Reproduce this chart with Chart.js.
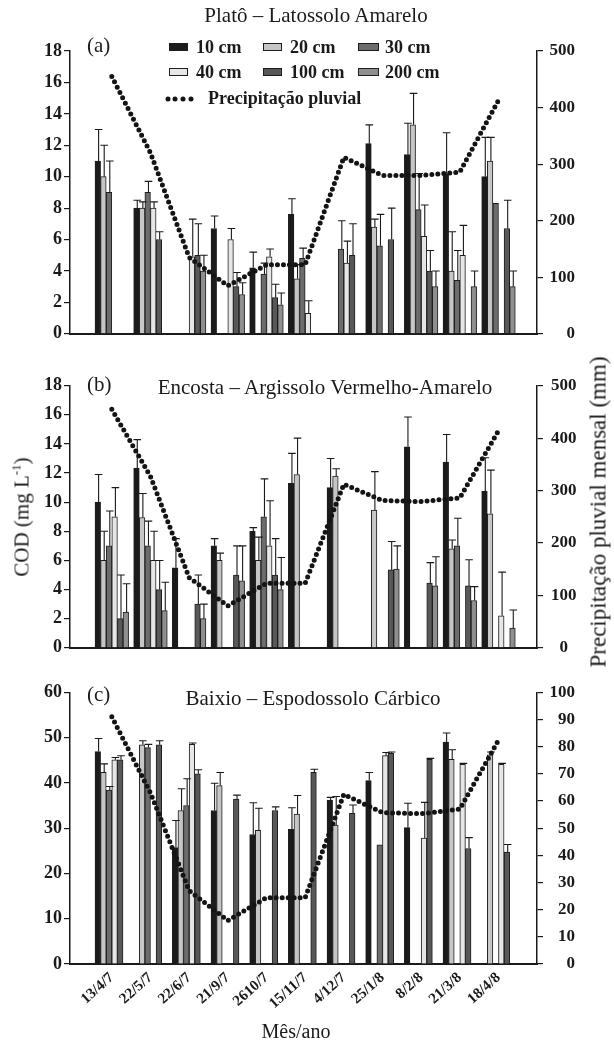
<!DOCTYPE html>
<html>
<head>
<meta charset="utf-8">
<script src="https://cdn.jsdelivr.net/npm/chart.js@4.4.1/dist/chart.umd.min.js"></script>
<style>
html,body{margin:0;padding:0;background:#fff;}
#wrap{position:relative;width:614px;height:1048px;overflow:hidden;font-family:'Liberation Serif','Times New Roman',serif;color:#1a1a1a;}
.cv{position:absolute;left:0;}
.t{position:absolute;white-space:nowrap;line-height:1;}
.c{transform:translate(-50%,-50%);}
.l{transform:translateY(-50%);}
.leg{position:absolute;white-space:nowrap;font-weight:bold;font-size:18px;line-height:1;transform:translateY(-50%);}
.box{position:absolute;width:19px;height:8px;border:1px solid #1e1e1e;box-sizing:border-box;transform:translateY(-50%);}
.dot{position:absolute;width:5px;height:5px;border-radius:50%;background:#141414;transform:translate(-50%,-50%);}
</style>
</head>
<body>
<div id="wrap">
  <div class="cv" style="top:0px;width:614px;height:352px;"><canvas id="cA" width="614" height="352"></canvas></div>
  <div class="cv" style="top:352px;width:614px;height:314px;"><canvas id="cB" width="614" height="314"></canvas></div>
  <div class="cv" style="top:666px;width:614px;height:382px;"><canvas id="cC" width="614" height="382"></canvas></div>

  <div class="t c" style="left:316px;top:15px;font-size:21px;">Platô – Latossolo Amarelo</div>
  <div class="t l" style="left:87px;top:45px;font-size:21px;">(a)</div>
  <div class="t c" style="left:325px;top:387px;font-size:21px;">Encosta – Argissolo Vermelho-Amarelo</div>
  <div class="t l" style="left:87px;top:384px;font-size:21px;">(b)</div>
  <div class="t c" style="left:313px;top:698px;font-size:21px;">Baixio – Espodossolo Cárbico</div>
  <div class="t l" style="left:87px;top:694px;font-size:21px;">(c)</div>

  <div class="t c" style="left:22px;top:517px;font-size:21px;transform:translate(-50%,-50%) rotate(-90deg);">COD (mg L<sup style="font-size:13px;line-height:0;">-1</sup>)</div>
  <div class="t c" style="left:598px;top:512px;font-size:23px;transform:translate(-50%,-50%) rotate(-90deg);">Precipitação pluvial mensal (mm)</div>
  <div class="t c" style="left:296px;top:1031px;font-size:20px;">Mês/ano</div>

  <div id="legend"></div>
</div>
<script>
// ---------- data ----------
const categories = ['13/4/7','22/5/7','22/6/7','21/9/7','2610/7','15/11/7','4/12/7','25/1/8','8/2/8','21/3/8','18/4/8'];
const seriesNames = ['10 cm','20 cm','30 cm','40 cm','100 cm','200 cm'];
const lineName = 'Precipitação pluvial';

const leftTicksAB = [0,2,4,6,8,10,12,14,16,18];
const rightTicksAB = [0,100,200,300,400,500];
const leftTicksC = [0,10,20,30,40,50,60];
const rightTicksC = [0,10,20,30,40,50,60,70,80,90,100];

// (a) Platô – Latossolo Amarelo
const a10   = [11.0, 8.0, null, 6.7, 4.2, 7.6, null, 12.1, 11.4, 10.2, 10.0];
const a10e  = [2.0, 0.5, null, 0.8, 1.0, 1.0, null, 1.2, 2.0, 2.6, 2.5];
const a20   = [10.0, 8.0, null, null, null, 3.5, null, 6.8, 13.3, 4.0, 11.0];
const a20e  = [2.0, 0.4, null, null, null, 0.9, null, 0.5, 2.0, 2.5, 1.5];
const a30   = [9.0, 9.0, null, null, 3.8, 4.8, 5.4, 5.6, 7.9, 3.4, 8.3];
const a30e  = [2.0, 0.7, null, null, 0.7, 0.65, 1.8, 2.0, 2.3, 1.9, 0];
const a40   = [null, 8.0, 4.9, 6.0, 4.9, 1.3, 4.5, null, 6.2, 5.0, null];
const a40e  = [null, 0.4, 2.4, 0.7, 0.5, 0.8, 1.4, null, 2.0, 1.9, null];
const a100  = [null, 6.0, 5.0, 3.0, 2.3, null, 5.0, 6.0, 4.0, null, 6.7];
const a100e = [null, 0.5, 2.0, 0.9, 0.85, null, 2.0, 2.0, 1.3, null, 1.8];
const a200  = [null, null, 4.0, 2.5, 1.85, null, null, null, 3.0, 3.0, 3.0];
const a200e = [null, null, 1.0, 0.75, 0.75, null, null, null, 1.0, 1.0, 1.0];
const aRain = [455, 320, 135, 85, 122, 122, 312, 280, 280, 286, 413];

// (b) Encosta – Argissolo Vermelho-Amarelo
const b10   = [10.0, 12.35, 5.5, 7.0, 8.0, 11.3, 11.0, null, 13.8, 12.75, 10.75];
const b10e  = [1.9, 1.95, 2.0, 0.5, 0.25, 2.05, 2.0, null, 2.05, 1.9, 2.3];
const b20   = [6.0, 8.95, null, 6.0, 6.0, 11.9, 11.8, 9.45, null, 6.8, 9.2];
const b20e  = [2.0, 1.65, null, 0.5, 1.6, 2.5, 0.5, 2.65, null, 0.6, 3.0];
const b30   = [7.0, 7.0, null, null, 9.0, null, null, null, null, 7.0, null];
const b30e  = [2.4, 1.7, null, null, 2.6, null, null, null, null, 1.9, null];
const b40   = [9.0, 6.0, null, null, 7.0, null, null, null, null, null, 2.2];
const b40e  = [2.0, 2.0, null, null, 3.1, null, null, null, null, null, 3.0];
const b100  = [2.0, 4.0, 3.0, 5.0, 5.0, null, null, 5.35, 4.45, 4.25, null];
const b100e = [3.0, 2.0, 2.0, 2.0, 2.5, null, null, 1.95, 1.4, 1.8, null];
const b200  = [2.45, 2.55, 2.0, 4.6, 4.0, null, null, 5.4, 4.25, 3.25, 1.35];
const b200e = [1.95, 1.95, 1.0, 2.4, 2.2, null, null, 1.6, 2.0, 0.95, 1.25];
const bRain = [455, 327, 134, 80, 123, 123, 312, 281, 279, 286, 414];

// (c) Baixio – Espodossolo Cárbico
const c10   = [46.9, null, 25.7, 33.9, 28.6, 29.75, 36.2, 40.5, 30.1, 49.0, null];
const c10e  = [2.9, null, 6.0, 6.0, 7.0, 4.75, 0.6, 1.8, 5.4, 2.0, null];
const c20   = [42.3, 48.4, 33.9, 39.4, 29.5, 33.1, 30.7, null, null, 45.2, 46.2];
const c20e  = [1.9, 0.9, 4.8, 2.9, 4.9, 4.1, 6.3, null, null, 2.1, 0.6];
const c30   = [38.4, 47.8, 35.0, null, null, null, null, 26.3, null, null, null];
const c30e  = [0.8, 0.7, 5.9, null, null, null, null, 0, null, null, null];
const c40   = [45.1, null, 48.5, null, null, null, null, 46.0, 27.8, 44.1, 44.1];
const c40e  = [0.5, null, 0.3, null, null, null, null, 0.7, 7.9, 0.2, 0.2];
const c100  = [45.1, 48.4, 42.0, 36.4, 33.9, 42.3, 33.3, 46.5, 45.2, 25.5, 24.7];
const c100e = [0.9, 0.9, 0.9, 0.9, 0.8, 0.7, 1.8, 0.3, 0.2, 2.4, 1.7];
const c200  = [null, null, null, null, null, null, null, null, null, null, null];
const c200e = [null, null, null, null, null, null, null, null, null, null, null];
const cRain = [91, 63, 27, 16, 24.4, 24.4, 62.4, 55.7, 55.3, 57, 82.4];

// ---------- style ----------
const INK = '#1a1a1a';
const seriesFill = ['#1b1b1b','#c6c6c6','#6c6c6c','#e6e6e6','#585858','#8f8f8f'];
const FONT = "'Liberation Serif','Times New Roman',serif";
const X_MIN = -1.081, X_MAX = 10.996;

Chart.defaults.font.family = FONT;
Chart.defaults.color = INK;
Chart.defaults.animation = false;

const errorBars = {
  id: 'errorBars',
  afterDatasetDraw(chart, args) {
    const ds = chart.data.datasets[args.index];
    if (!ds.errors) return;
    const yScale = chart.scales[ds.yAxisID];
    const ctx = chart.ctx;
    ctx.save();
    ctx.strokeStyle = INK;
    ctx.lineWidth = 1.1;
    args.meta.data.forEach((bar, i) => {
      const v = ds.data[i].y, e = ds.errors[i];
      if (v == null || e == null || e <= 0) return;
      const top = yScale.getPixelForValue(v + e);
      const x = bar.x + 0.8;
      ctx.beginPath();
      ctx.moveTo(x, bar.y);
      ctx.lineTo(x, top);
      ctx.moveTo(x - 3.8, top);
      ctx.lineTo(x + 3.8, top);
      ctx.stroke();
    });
    ctx.restore();
  }
};

function build(id, vals, errs, rain, cfg) {
  const datasets = seriesNames.map((name, k) => ({
    type: 'bar',
    label: name,
    order: 1,
    yAxisID: 'y',
    data: vals[k].map((v, i) => ({ x: i, y: v })),
    errors: errs[k],
    backgroundColor: seriesFill[k],
    borderColor: '#1e1e1e',
    borderWidth: 1,
    barThickness: 5.6
  }));
  datasets.push({
    type: 'line',
    label: lineName,
    order: 0,
    yAxisID: 'y2',
    data: rain.map((v, i) => ({ x: i, y: v })),
    borderColor: '#141414',
    borderWidth: 5,
    borderDash: [0, 6],
    borderCapStyle: 'round',
    pointRadius: 0,
    tension: 0,
    fill: false
  });
  const gridOpts = { drawOnChartArea: false, drawTicks: true, tickLength: 6, color: INK, lineWidth: 1.2 };
  const borderOpts = { display: true, color: INK, width: 1.5 };
  return new Chart(document.getElementById(id), {
    type: 'bar',
    data: { datasets },
    plugins: [errorBars],
    options: {
      responsive: false,
      animation: false,
      layout: { padding: { top: cfg.padTop, right: cfg.padRight, left: 0, bottom: 0 } },
      plugins: { legend: { display: false }, tooltip: { enabled: false } },
      scales: {
        x: {
          type: 'linear', min: X_MIN, max: X_MAX, offset: false,
          afterBuildTicks: s => { s.ticks = categories.map((_, i) => ({ value: i })); },
          afterFit: s => { s.height = cfg.xHeight; },
          grid: { display: false, drawTicks: false },
          border: { display: true, color: INK, width: 2 },
          ticks: {
            display: cfg.showX, autoSkip: false, maxRotation: 42, minRotation: 42, padding: 5,
            font: { size: 15, weight: 'bold' }, color: INK,
            callback: v => categories[v] !== undefined ? categories[v] : ''
          }
        },
        y: {
          position: 'left', min: 0, max: cfg.left[cfg.left.length - 1],
          afterBuildTicks: s => { s.ticks = cfg.left.map(v => ({ value: v })); },
          afterFit: s => { s.width = 70; },
          grid: gridOpts, border: borderOpts,
          ticks: { padding: 2, font: { size: 18, weight: 'bold' }, color: INK }
        },
        y2: {
          position: 'right', min: 0, max: cfg.right[cfg.right.length - 1],
          afterBuildTicks: s => { s.ticks = cfg.right.map(v => ({ value: v })); },
          afterFit: s => { s.width = cfg.rightW; },
          grid: gridOpts, border: borderOpts,
          ticks: { padding: 8, crossAlign: cfg.rightAlign, font: { size: 17, weight: 'bold' }, color: INK }
        }
      }
    }
  });
}

build('cA', [a10,a20,a30,a40,a100,a200], [a10e,a20e,a30e,a40e,a100e,a200e], aRain,
  { padTop: 51, padRight: 39, rightW: 38, xHeight: 15, showX: false, left: leftTicksAB, right: rightTicksAB, rightAlign: 'far' });
build('cB', [b10,b20,b30,b40,b100,b200], [b10e,b20e,b30e,b40e,b100e,b200e], bRain,
  { padTop: 33.7, padRight: 0, rightW: 77, xHeight: 15, showX: false, left: leftTicksAB, right: rightTicksAB, rightAlign: 'center' });
build('cC', [c10,c20,c30,c40,c100,c200], [c10e,c20e,c30e,c40e,c100e,c200e], cRain,
  { padTop: 26.3, padRight: 39, rightW: 38, xHeight: 84, showX: true, left: leftTicksC, right: rightTicksC, rightAlign: 'far' });

// ---------- legend (HTML, inside panel a) ----------
(function () {
  const leg = document.getElementById('legend');
  const cols = [169, 263, 358];
  const rows = [47, 72];
  seriesNames.forEach((name, k) => {
    const r = Math.floor(k / 3), c = k % 3;
    const b = document.createElement('div');
    b.className = 'box';
    b.style.left = cols[c] + 'px';
    b.style.top = rows[r] + 'px';
    b.style.width = (c === 2 ? 21 : 19) + 'px';
    b.style.background = seriesFill[k];
    leg.appendChild(b);
    const t = document.createElement('div');
    t.className = 'leg';
    t.style.left = (cols[c] + 27) + 'px';
    t.style.top = rows[r] + 'px';
    t.textContent = name;
    leg.appendChild(t);
  });
  [167.5, 175.3, 183, 190.7].forEach(x => {
    const d = document.createElement('div');
    d.className = 'dot';
    d.style.left = x + 'px';
    d.style.top = '99px';
    leg.appendChild(d);
  });
  const t = document.createElement('div');
  t.className = 'leg';
  t.style.left = '208px';
  t.style.top = '98px';
  t.textContent = lineName;
  leg.appendChild(t);
})();
</script>
</body>
</html>
